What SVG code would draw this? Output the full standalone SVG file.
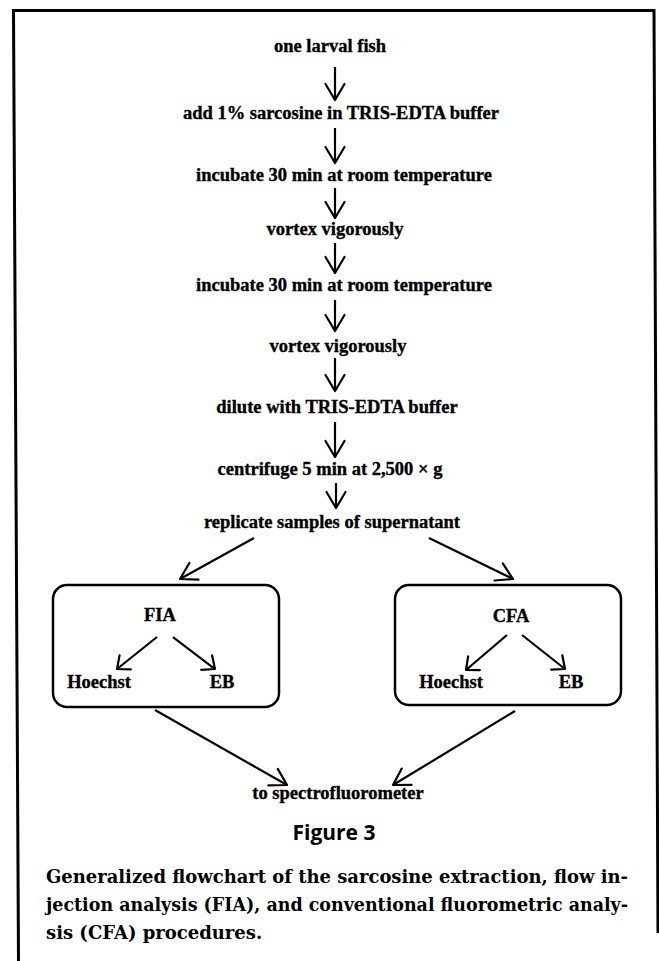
<svg xmlns="http://www.w3.org/2000/svg" width="659" height="961" viewBox="0 0 659 961">
<defs>
<marker id="ah" markerUnits="userSpaceOnUse" viewBox="-20 -12 24 24" markerWidth="24" markerHeight="24" refX="0" refY="0" orient="auto">
<path d="M-16,-9.5 L0,0 L-16,9.5" fill="none" stroke="#000" stroke-width="2.2" stroke-linecap="round" stroke-linejoin="round"/>
</marker>
<marker id="ahs" markerUnits="userSpaceOnUse" viewBox="-20 -12 24 24" markerWidth="24" markerHeight="24" refX="0" refY="0" orient="auto">
<path d="M-10.5,-9 L0,0 L-10.5,9" fill="none" stroke="#000" stroke-width="2.2" stroke-linecap="round" stroke-linejoin="round"/>
</marker>
</defs>
<style>
.t{font-family:"Liberation Serif","Times New Roman",serif;font-weight:bold;font-size:18.5px;fill:#000;stroke:#000;stroke-width:0.35;text-anchor:middle}
.c{stroke:#000;stroke-width:2.2;fill:none;marker-end:url(#ah)}
.cs{stroke:#000;stroke-width:2.2;fill:none;marker-end:url(#ahs)}
.box{fill:none;stroke:#000;stroke-width:2.5}
.cap{font-family:"DejaVu Serif",serif;font-weight:bold;font-size:18px;fill:#000}
.fig{font-family:"Open Sans",sans-serif;font-weight:bold;font-size:21px;fill:#000;text-anchor:middle}
</style>
<rect width="659" height="961" fill="#fff"/>
<polyline points="18.5,961 13.5,10.5 654,10.5 658,933" fill="none" stroke="#000" stroke-width="3"/>

<g id="n1"><text class="t" x="330" y="52">one larval fish</text></g>
<g id="n2"><text class="t" x="341" y="119">add 1% sarcosine in TRIS-EDTA buffer</text></g>
<g id="n3"><text class="t" x="344" y="181">incubate 30 min at room temperature</text></g>
<g id="n4"><text class="t" x="335" y="235">vortex vigorously</text></g>
<g id="n5"><text class="t" x="344" y="291">incubate 30 min at room temperature</text></g>
<g id="n6"><text class="t" x="338" y="352">vortex vigorously</text></g>
<g id="n7"><text class="t" x="337" y="413">dilute with TRIS-EDTA buffer</text></g>
<g id="n8"><text class="t" x="330" y="475">centrifuge 5 min at 2,500 × g</text></g>
<g id="n9"><text class="t" x="332" y="528">replicate samples of supernatant</text></g>

<g id="fia">
<rect class="box" x="53" y="585" width="226" height="122" rx="14"/>
<text class="t" x="160" y="621">FIA</text>
</g>
<g id="fia-hoechst"><text class="t" x="99" y="688">Hoechst</text></g>
<g id="fia-eb"><text class="t" x="222" y="688">EB</text></g>

<g id="cfa">
<rect class="box" x="395" y="585" width="226" height="120" rx="14"/>
<text class="t" x="511" y="622">CFA</text>
</g>
<g id="cfa-hoechst"><text class="t" x="451" y="688">Hoechst</text></g>
<g id="cfa-eb"><text class="t" x="571" y="688">EB</text></g>

<g id="n10"><text class="t" x="338" y="799">to spectrofluorometer</text></g>

<g id="connectors">
<line class="c" x1="335" y1="67" x2="335" y2="100"/>
<line class="c" x1="335" y1="128" x2="335" y2="163"/>
<line class="c" x1="335" y1="188" x2="335" y2="218"/>
<line class="c" x1="335" y1="243" x2="335" y2="273"/>
<line class="c" x1="335" y1="300" x2="335" y2="331"/>
<line class="c" x1="335" y1="358" x2="335" y2="391"/>
<line class="c" x1="335" y1="422" x2="335" y2="457"/>
<line class="c" x1="336" y1="483" x2="336" y2="508"/>
<line class="c" x1="254" y1="538" x2="180" y2="579"/>
<line class="c" x1="429" y1="538" x2="513" y2="579"/>
<line class="cs" x1="157" y1="637" x2="117" y2="669"/>
<line class="cs" x1="173" y1="637" x2="215" y2="669"/>
<line class="cs" x1="507" y1="635" x2="466" y2="670"/>
<line class="cs" x1="522" y1="635" x2="565" y2="669"/>
<line class="c" x1="155" y1="710" x2="287" y2="785"/>
<line class="c" x1="515" y1="711" x2="393" y2="785"/>
</g>

<g id="caption">
<text class="fig" x="334" y="840">Figure 3</text>
<text class="cap" x="46" y="883" textLength="582" lengthAdjust="spacingAndGlyphs">Generalized flowchart of the sarcosine extraction, flow in-</text>
<text class="cap" x="46" y="911" textLength="582" lengthAdjust="spacingAndGlyphs">jection analysis (FIA), and conventional fluorometric analy-</text>
<text class="cap" x="46" y="939">sis (CFA) procedures.</text>
</g>
</svg>
